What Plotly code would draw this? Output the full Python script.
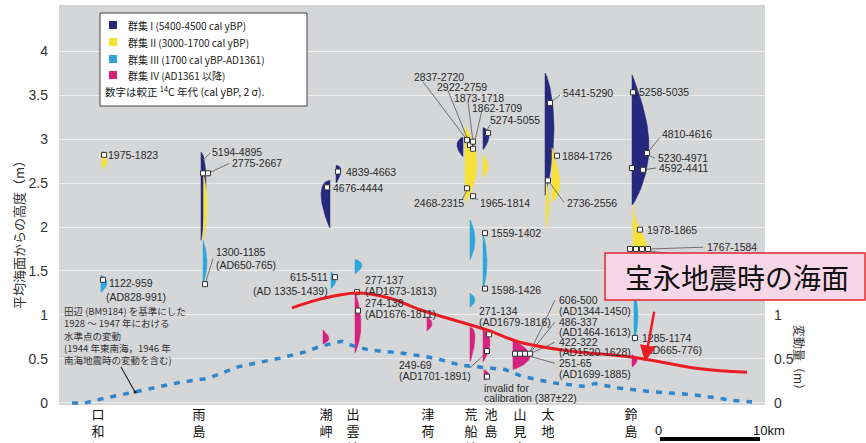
import numpy as np
import plotly.graph_objects as go

# ---------------- data ----------------
# locations along the coast (km)
loc_names = ["口和深", "雨島", "潮岬", "出雲崎", "津荷", "荒船崎", "池島", "山見鼻", "太地", "鈴島"]
loc_km = [3.9, 14.0, 26.7, 29.4, 36.9, 41.2, 43.2, 46.1, 48.9, 57.2]

# fossil coral population elevation distributions
pop_group = ["II", "III", "I", "II", "III", "I", "I", "III", "IV", "III", "IV", "IV",
             "I", "II", "III", "III", "IV", "I", "II", "III", "IV", "IV", "IV",
             "I", "II", "II", "I", "II", "III", "IV"]
pop_x = [4.3, 4.2, 14.2, 14.45, 14.4, 27.7, 27.1, 27.2, 26.4, 29.6, 29.6, 36.8,
         40.4, 40.6, 41.1, 41.1, 41.1, 42.4, 42.4, 42.4, 42.4, 42.5, 45.4,
         48.6, 49.3, 48.7, 57.3, 57.4, 57.5, 57.3]
pop_top = [2.85, 1.45, 2.85, 2.61, 1.85, 2.70, 2.53, 1.49, 0.83, 1.63, 1.28, 0.98,
           3.02, 3.14, 2.08, 1.25, 0.86, 3.13, 2.82, 1.93, 0.83, 0.38, 0.72,
           3.75, 2.90, 2.53, 3.73, 2.25, 1.28, 0.55]
pop_bottom = [2.66, 1.26, 1.85, 1.85, 1.35, 2.50, 1.99, 1.30, 0.67, 1.47, 0.57, 0.82,
              2.80, 2.28, 1.63, 1.09, 0.47, 2.88, 2.56, 1.28, 0.47, 0.26, 0.38,
              2.36, 2.28, 1.99, 2.25, 1.65, 0.69, 0.41]
pop_density = [0.5, 0.6, 0.5, 0.35, 0.4, 0.5, 0.9, 0.5, 0.6, 0.7, 0.6, 0.5,
               0.6, 1.2, 0.5, 0.5, 0.5, 0.6, 0.5, 0.4, 0.7, 0.5, 1.7,
               0.9, 0.8, 0.3, 1.7, 1.3, 0.4, 0.5]
pop_mode = [0.6, 0.45, 0.35, 0.5, 0.5, 0.3, 0.3, 0.5, 0.6, 0.4, 0.55, 0.5,
            0.4, 0.5, 0.5, 0.5, 0.3, 0.4, 0.5, 0.5, 0.4, 0.5, 0.55,
            0.45, 0.65, 0.5, 0.55, 0.75, 0.5, 0.5]
pop_side = [1, 1, 1, 1, 1, 1, -1, 1, 1, 1, 1, 1,
            -1, 1, 1, 1, 1, 1, 1, 1, 1, 1, 1,
            1, 1, 1, 1, 1, 1, 1]

# dated samples (white squares)
sample_x = [4.5, 4.4, 14.4, 14.9, 14.6, 27.9, 26.8, 27.6, 29.8, 29.9,
            40.8, 41.1, 41.4, 41.4, 40.8, 41.4, 42.9, 42.6, 42.6, 43.0, 42.8, 42.8,
            45.6, 46.1, 46.6, 47.1, 49.1, 49.8, 48.9,
            57.4, 58.8, 57.3, 58.4, 58.1, 57.1, 57.7, 58.3, 58.9, 57.6]
sample_h = [2.82, 1.40, 2.61, 2.61, 1.35, 2.63, 2.45, 1.43, 1.26, 1.05,
            2.99, 2.93, 2.97, 2.89, 2.44, 2.35, 3.07, 1.93, 1.30, 0.78, 0.59, 0.30,
            0.56, 0.56, 0.56, 0.56, 3.41, 2.81, 2.53,
            3.53, 2.84, 2.67, 2.65, 1.97, 1.75, 1.75, 1.75, 1.75, 0.74]

# leveling change 1928-1947 relative to Tanabe BM9184 (right axis, m)
lev_km = [1.3, 2.6, 4.4, 6.4, 8.9, 11.9, 14.9, 16.4, 17.9, 20.4, 22.1, 24.6, 25.8, 27.4,
          28.3, 29.4, 31.1, 34.1, 35.4, 37.6, 40.1, 41.8, 44.6, 46.4, 49.3, 52.4, 53.6,
          55.9, 59.1, 62.8, 64.4, 67.4, 69.3]
lev_dh = [0.0, 0.0, 0.05, 0.10, 0.16, 0.23, 0.28, 0.34, 0.41, 0.47, 0.51, 0.58, 0.63, 0.68,
          0.70, 0.65, 0.60, 0.57, 0.55, 0.51, 0.43, 0.41, 0.38, 0.30, 0.23, 0.19, 0.22,
          0.17, 0.13, 0.10, 0.08, 0.03, 0.01]

# sea level at the time of the Hoei earthquake
hoei_km = [23.3, 26.1, 29.8, 33.1, 36.1, 42.8, 46.1, 51.1, 57.4, 64.1, 68.8]
hoei_h = [1.08, 1.18, 1.25, 1.19, 1.06, 0.83, 0.69, 0.59, 0.52, 0.39, 0.35]

# age labels
label_text = ["1975-1823", "1122-959", "(AD828-991)", "5194-4895", "2775-2667", "1300-1185",
              "(AD650-765)", "4839-4663", "4676-4444", "615-511", "(AD 1335-1439)",
              "277-137", "(AD1673-1813)", "274-138", "(AD1676-1811)",
              "2837-2720", "2922-2759", "1873-1718", "1862-1709", "5274-5055",
              "2468-2315", "1965-1814", "1559-1402", "1598-1426", "271-134", "(AD1679-1816)",
              "249-69", "(AD1701-1891)", "invalid for", "calibration (387±22)",
              "606-500", "(AD1344-1450)", "486-337", "(AD1464-1613)", "422-322", "(AD1520-1628)",
              "251-65", "(AD1699-1885)", "5441-5290", "1884-1726", "2736-2556",
              "5258-5035", "4810-4616", "5230-4971", "4592-4411", "1978-1865", "1767-1584",
              "1285-1174", "(AD665-776)"]
label_x = [4.7, 4.8, 4.5, 15.1, 17.1, 15.5, 15.5, 28.5, 27.2, 27.1, 27.1,
           30.4, 30.4, 30.4, 30.4, 35.3, 37.6, 39.3, 41.1, 42.9, 35.3, 41.9, 43.0, 43.0,
           41.8, 41.8, 33.8, 33.8, 42.3, 42.3,
           49.8, 49.8, 49.8, 49.8, 49.8, 49.8, 49.8, 49.8, 50.2, 50.1, 50.6,
           57.8, 60.1, 59.7, 59.8, 58.6, 64.6, 58.1, 58.1]
label_y = [2.82, 1.36, 1.20, 2.85, 2.73, 1.72, 1.57, 2.63, 2.44, 1.43, 1.27,
           1.40, 1.27, 1.14, 1.01, 3.70, 3.59, 3.47, 3.35, 3.22, 2.27, 2.27, 1.93, 1.28,
           1.05, 0.92, 0.43, 0.31, 0.17, 0.06,
           1.17, 1.05, 0.92, 0.81, 0.69, 0.58, 0.45, 0.33, 3.52, 2.81, 2.27,
           3.53, 3.06, 2.78, 2.67, 1.97, 1.77, 0.74, 0.60]
label_anchor = ["left"] * 9 + ["right", "right"] + ["left"] * 38

# leader lines: (sample point) -> (label point)
leader_from_x = [14.4, 14.9, 14.6, 40.8, 41.1, 41.4, 41.4, 42.7, 40.8, 41.4, 42.8,
                 47.1, 47.1, 47.1, 47.1, 49.1, 48.9, 58.8, 58.9, 58.4, 58.9, 58.9]
leader_from_y = [2.76, 2.61, 1.35, 2.99, 2.93, 2.97, 2.89, 3.08, 2.42, 2.34, 0.58,
                 0.58, 0.57, 0.56, 0.53, 3.41, 2.53, 2.84, 2.82, 2.65, 1.75, 1.73]
leader_to_x = [15.1, 17.0, 15.4, 36.4, 38.9, 40.9, 42.3, 43.1, 40.3, 41.9, 41.1,
               49.6, 49.6, 49.6, 49.6, 50.1, 50.5, 60.1, 59.6, 59.7, 64.4, 64.1]
leader_to_y = [2.84, 2.72, 1.64, 3.65, 3.55, 3.42, 3.33, 3.16, 2.31, 2.31, 0.40,
               1.17, 0.92, 0.69, 0.45, 3.50, 2.28, 3.02, 2.78, 2.67, 1.77, 1.65]

group_color = {"I": "#26287e", "II": "#f5e13a", "III": "#2ea6da", "IV": "#d6227f"}
group_label = {"I": "群集 I (5400-4500 cal yBP)", "II": "群集 II (3000-1700 cal yBP)",
               "III": "群集 III (1700 cal yBP-AD1361)", "IV": "群集 IV (AD1361 以降)"}

# ---------------- layout geometry ----------------
W, H = 866, 443
ML, MR, MT, MB = 59, 101, 5, 38
PW, PH = W - ML - MR, H - MT - MB
X_RANGE = [0, 70.6]
Y_RANGE = [-0.023, 4.523]


def pxx(xp):
    return (xp - ML) / PW


def pxy(yp):
    return (H - MB - yp) / PH


LAT = "Liberation Sans, Arial, Noto Sans CJK JP"
CJK = "Noto Sans CJK JP, Liberation Sans"

fig = go.Figure()

# coral population distributions (half-lens glyphs)
t = np.linspace(0, 1, 40)
for g, x0, top, bot, wd, pk, sd in zip(pop_group, pop_x, pop_top, pop_bottom,
                                         pop_density, pop_mode, pop_side):
    a = np.log(0.5) / np.log(pk)
    prof = np.sin(np.pi * t ** a) ** 0.8
    ys = top - t * (top - bot)
    xs = x0 + sd * wd * prof
    px_ = np.concatenate([[x0, x0], xs[::-1]])
    py_ = np.concatenate([[top, bot], ys[::-1]])
    fig.add_trace(go.Scatter(x=px_, y=py_, mode="lines", fill="toself",
                             fillcolor=group_color[g],
                             line=dict(color=group_color[g], width=0.5),
                             name=group_label[g], legendgroup=g,
                             showlegend=False, hoverinfo="name"))

# leader lines
lx, ly = [], []
for a1, b1, a2, b2 in zip(leader_from_x, leader_from_y, leader_to_x, leader_to_y):
    lx += [a1, a2, None]
    ly += [b1, b2, None]
fig.add_trace(go.Scatter(x=lx, y=ly, mode="lines", line=dict(color="#555555", width=0.8),
                         hoverinfo="skip", showlegend=False))

# sample markers
fig.add_trace(go.Scatter(x=sample_x, y=sample_h, mode="markers",
                         marker=dict(symbol="square", size=5, color="white",
                                     line=dict(color="#333333", width=1)),
                         showlegend=False, name="試料"))

# leveling change (right axis)
fig.add_trace(go.Scatter(x=lev_km, y=lev_dh, mode="lines", yaxis="y2",
                         line=dict(color="#2f86cc", width=3.5, dash="6px,7px"),
                         showlegend=False, name="水準点の変動"))

# Hoei earthquake sea level
fig.add_trace(go.Scatter(x=hoei_km, y=hoei_h, mode="lines",
                         line=dict(color="#ec1c24", width=3, shape="spline"),
                         showlegend=False, name="宝永地震時の海面"))

# labels
for txt, x, y, anc in zip(label_text, label_x, label_y, label_anchor):
    fig.add_annotation(x=x, y=y, text=txt, xanchor=anc, yanchor="middle", showarrow=False,
                       font=dict(family=LAT, size=10.5, color="#2a2a2a"))

# leveling note + arrow
fig.add_annotation(x=0.3, y=0.77, xanchor="left", yanchor="middle", align="left", showarrow=False,
                   text="田辺 (BM9184) を基準にした<br>1928 ～ 1947 年における<br>水準点の変動<br>"
                        "(1944 年東南海，1946 年<br>南海地震時の変動を含む)",
                   font=dict(family=CJK, size=9.5, color="#333333"))
fig.add_annotation(x=7.6, y=0.125, ax=5.9, ay=0.47, axref="x", ayref="y", text=" ",
                   showarrow=True, arrowhead=6, arrowsize=0.7, arrowwidth=1.1, arrowcolor="#222222")

# legend box (manual)
fig.add_shape(type="rect", xref="paper", yref="paper", x0=pxx(100), x1=pxx(307), y0=pxy(106), y1=pxy(13),
              fillcolor="white", line=dict(color="#444444", width=1), layer="above")
rows = [25, 42, 59, 75]
for g, ry in zip(["I", "II", "III", "IV"], rows):
    fig.add_shape(type="rect", xref="paper", yref="paper", x0=pxx(109), x1=pxx(117),
                  y0=pxy(ry + 4), y1=pxy(ry - 4), fillcolor=group_color[g],
                  line=dict(width=0), layer="above")
    fig.add_annotation(xref="paper", yref="paper", x=pxx(126), y=pxy(ry), xanchor="left",
                       yanchor="middle", showarrow=False, text=group_label[g],
                       font=dict(family=CJK, size=10, color="#222222"))
fig.add_annotation(xref="paper", yref="paper", x=pxx(103), y=pxy(91), xanchor="left",
                   yanchor="middle", showarrow=False,
                   text="数字は較正 <sup>14</sup>C 年代 (cal yBP, 2 σ).",
                   font=dict(family=CJK, size=10.5, color="#222222"))

# callout box
fig.add_shape(type="rect", xref="paper", yref="paper", x0=pxx(605), x1=pxx(865), y0=pxy(300), y1=pxy(253),
              fillcolor="#f7d7e7", line=dict(color="#e8262e", width=1.5), layer="above")
fig.add_annotation(xref="paper", yref="paper", x=pxx(737), y=pxy(277), xanchor="center", yanchor="middle",
                   showarrow=False, text="宝永地震時の海面",
                   font=dict(family=CJK, size=28, color="#111111"))
fig.add_annotation(x=58.6, y=0.47, ax=59.7, ay=1.15, axref="x", ayref="y", text=" ",
                   showarrow=True, arrowhead=2, arrowsize=1.3, arrowwidth=2.5, arrowcolor="#ec1c24")

# axis titles
fig.add_annotation(xref="paper", yref="paper", x=pxx(18), y=pxy(232), textangle=-90, showarrow=False,
                   xanchor="center", yanchor="middle",
                   text="平均海面からの高度（m）", font=dict(family=CJK, size=13, color="#333333"))
fig.add_annotation(xref="paper", yref="paper", x=pxx(800), y=pxy(360), textangle=90, showarrow=False,
                   xanchor="center", yanchor="middle",
                   text="変動量（m）", font=dict(family=CJK, size=12, color="#333333"))

# scale bar
fig.add_shape(type="line", xref="paper", yref="paper", x0=pxx(660), x1=pxx(760), y0=pxy(439), y1=pxy(439),
              line=dict(color="black", width=4))
fig.add_annotation(xref="paper", yref="paper", x=pxx(658), y=pxy(430), showarrow=False, text="0",
                   xanchor="center", yanchor="middle",
                   font=dict(family=LAT, size=13, color="#111111"))
fig.add_annotation(xref="paper", yref="paper", x=pxx(751), y=pxy(430), xanchor="left", yanchor="middle",
                   showarrow=False, text="10km", font=dict(family=LAT, size=13, color="#111111"))

ytv = [0, 0.5, 1, 1.5, 2, 2.5, 3, 3.5, 4]
fig.update_layout(
    width=W, height=H, margin=dict(l=ML, r=MR, t=MT, b=MB, autoexpand=False),
    paper_bgcolor="white", plot_bgcolor="#d5d6d8", showlegend=False,
    xaxis=dict(range=X_RANGE, showgrid=False, zeroline=False, showline=False, ticks="",
               automargin=False,
               tickvals=loc_km, ticktext=["<br>".join(n) for n in loc_names],
               tickfont=dict(family=CJK, size=13, color="#111111"), ticklabelstandoff=0),
    yaxis=dict(range=Y_RANGE, tickvals=ytv, ticktext=[f"{v:g}" for v in ytv], showgrid=True,
               automargin=False,
               gridcolor="#ececec", gridwidth=1, zeroline=False, showline=False, ticks="",
               tickfont=dict(family=LAT, size=14, color="#333333"), ticklabelstandoff=10),
    yaxis2=dict(range=Y_RANGE, overlaying="y", side="right", tickvals=[0, 0.5, 1],
                automargin=False,
                ticktext=["0", "0.5", "1"], showgrid=False, zeroline=False, showline=False, ticks="",
                tickfont=dict(family=LAT, size=14, color="#333333"), ticklabelstandoff=8),
)

fig.write_html("out.html", config={"displayModeBar": False},
               post_script="document.body.style.margin='0';")
